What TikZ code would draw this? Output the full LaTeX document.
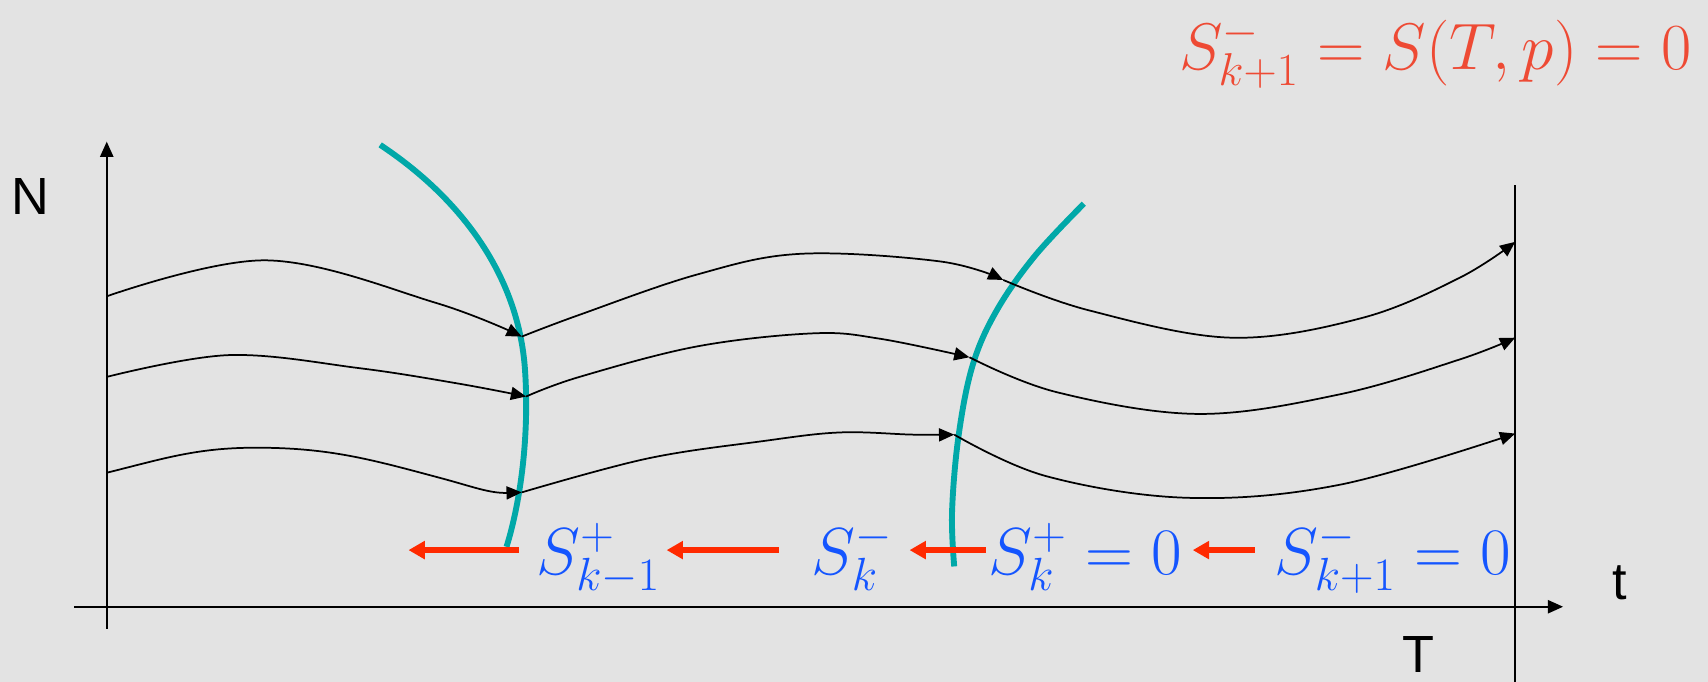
\RequirePackage{fix-cm}
\documentclass[tikz,border=0pt]{standalone}
\usepackage{fontspec}
\newfontfamily\sansf{Liberation Sans}
\usetikzlibrary{arrows.meta}
\definecolor{bgc}{RGB}{227,227,227}
\definecolor{frontc}{RGB}{0,168,168}
\definecolor{redarr}{RGB}{255,42,0}
\definecolor{redtxt}{RGB}{238,74,52}
\definecolor{bluetxt}{RGB}{20,85,255}
\begin{document}
\begin{tikzpicture}[x=0.5pt,y=-0.5pt,
  axis/.style={line width=1pt,-{Triangle[length=7pt,width=6pt]}},
  traj/.style={line width=0.8pt,-{Triangle[length=7pt,width=6pt]}},
  front/.style={frontc,line width=2.7pt},
  back/.style={redarr,line width=2.6pt,-{Triangle[length=7.5pt,width=8pt]}},
  lab/.style={font=\sansf\fontsize{24}{28}\selectfont,inner sep=0pt},
  blab/.style={text=bluetxt,font=\fontsize{30.5}{36}\selectfont,inner sep=0pt,anchor=base west},
  rlab/.style={text=redtxt,font=\fontsize{30.2}{36}\selectfont,inner sep=0pt,anchor=base west}]
\fill[bgc] (0,0) rectangle (1568,626);
\useasboundingbox (0,0) rectangle (1568,626);
% axes
\coordinate (yb) at (98,577); \coordinate (yt) at (98,130);
\draw[axis] (yb) -- (yt);
\coordinate (xl) at (68,557); \coordinate (xr) at (1435,557);
\draw[axis] (xl) -- (xr);
\coordinate (Tt) at (1391,170); \coordinate (Tb) at (1391,626);
\draw[line width=1pt] (Tt) -- (Tb);
\node[lab] (N) at (28,180) {N};
\node[lab] (tl) at (1487,535) {t};
\node[lab] (TT) at (1302,601) {T};
% fronts
\coordinate (f1a) at (349,133); \coordinate (f1m) at (482,340); \coordinate (f1b) at (465,502);
\draw[front] (f1a) .. controls (420,180) and (476,250) .. (f1m) .. controls (486,400) and (478,460) .. (f1b);
\draw[front] plot[smooth,tension=0.6] coordinates {(995,187) (950,235) (915,285) (893,335) (880,400) (874,470) (876,520)};
% crossing points
\coordinate (a1) at (479,309); \coordinate (a2) at (483,364); \coordinate (a3) at (479,452);
\coordinate (b1) at (921,257); \coordinate (b2) at (890,328); \coordinate (b3) at (876,399);
\coordinate (c1) at (1391,222); \coordinate (c2) at (1391,310); \coordinate (c3) at (1391,398);
\coordinate (s1) at (98,272); \coordinate (s2) at (98,346); \coordinate (s3) at (98,434);
% trajectories
\draw[traj] plot[smooth,tension=0.6] coordinates {(s1) (245,239) (400,278) (a1)};
\draw[traj] plot[smooth,tension=0.6] coordinates {(a1) (532,289) (640,252) (735,233) (863,240) (b1)};
\draw[traj] plot[smooth,tension=0.6] coordinates {(b1) (1000,285) (1130,310) (1250,292) (1340,255) (c1)};
\draw[traj] plot[smooth,tension=0.6] coordinates {(s2) (210,326) (330,338) (420,352) (a2)};
\draw[traj] plot[smooth,tension=0.6] coordinates {(a2) (532,346) (640,318) (747,306) (808,311) (b2)};
\draw[traj] plot[smooth,tension=0.6] coordinates {(b2) (970,360) (1100,380) (1230,362) (1340,330) (c2)};
\draw[traj] (s3) to[out=14,in=180] (235,411) to[out=0,in=165] (405,439) to[out=-15,in=182] (a3);
\draw[traj] plot[smooth,tension=0.6] coordinates {(a3) (594,421) (700,405) (771,397) (838,399) (b3)};
\draw[traj] plot[smooth,tension=0.6] coordinates {(b3) (960,437) (1090,457) (1230,445) (c3)};
% labels
\node[rlab] (R) at (1082,64) {$S^{-}_{k+1}=S(T,p)=0$};
\node[blab] (L1) at (492,527) {$S^{+}_{k-1}$};
\node[blab] (L2) at (745,527) {$S^{-}_{k}$};
\node[blab] (L3) at (907,527) {$S^{+}_{k}=0$};
\node[blab] (L4) at (1170,527) {$S^{-}_{k+1}=0$};
% backward arrows
\coordinate (r1s) at (476,505); \coordinate (r1e) at (375,505);
\coordinate (r2s) at (715,505); \coordinate (r2e) at (612,505);
\coordinate (r3s) at (905,505); \coordinate (r3e) at (835,505);
\coordinate (r4s) at (1152,505); \coordinate (r4e) at (1095,505);
\draw[back] (r1s) -- (r1e);
\draw[back] (r2s) -- (r2e);
\draw[back] (r3s) -- (r3e);
\draw[back] (r4s) -- (r4e);
\end{tikzpicture}
\end{document}
